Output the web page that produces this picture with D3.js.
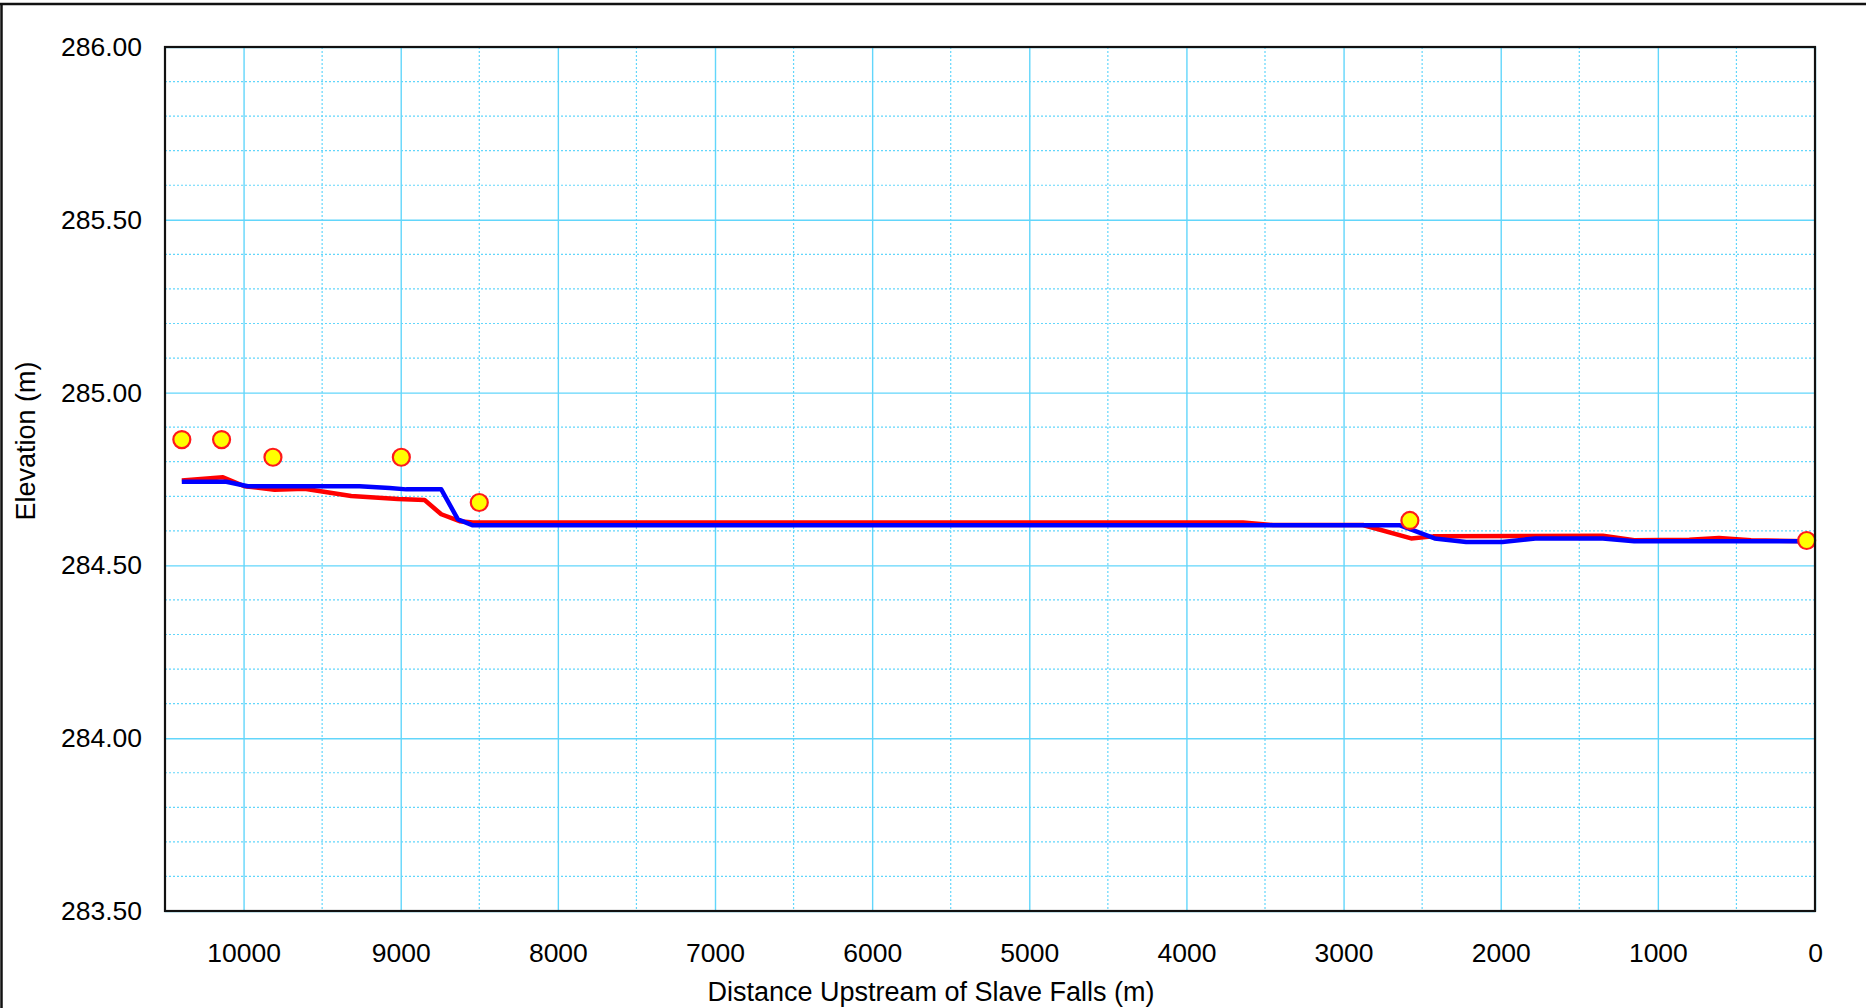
<!DOCTYPE html>
<html>
<head>
<meta charset="utf-8">
<script src="https://cdn.jsdelivr.net/npm/d3@7"></script>
<style>
  body { margin: 0; background: #fff; }
  svg { display: block; font-family: "Liberation Sans", Arial, sans-serif; }
</style>
</head>
<body>
<svg id="chart" width="1866" height="1008"></svg>
<script>
// water surface profiles, distance upstream (m) vs elevation (m)
var redDist = [10393, 10131, 9994, 9803, 9612, 9315, 9018, 8848, 8742, 8625, 8541, 3640, 3450, 2877, 2570, 2430, 1350, 1150, 800, 611, 407, 51];
var redElev = [284.746, 284.755, 284.729, 284.719, 284.722, 284.701, 284.692, 284.689, 284.648, 284.628, 284.624, 284.624, 284.617, 284.617, 284.578, 284.584, 284.586, 284.573, 284.574, 284.579, 284.573, 284.570];

var blueDist = [10393, 10110, 9973, 9262, 9071, 8965, 8742, 8636, 8541, 2640, 2420, 2220, 1990, 1780, 1350, 1150, 51];
var blueElev = [284.742, 284.742, 284.729, 284.729, 284.724, 284.720, 284.720, 284.633, 284.616, 284.616, 284.578, 284.568, 284.568, 284.578, 284.578, 284.570, 284.570];

// observed levels
var obsDist = [10393, 10140, 9813, 8996, 8500, 2578, 53];
var obsElev = [284.864, 284.864, 284.813, 284.813, 284.682, 284.630, 284.572];

var xTicks = [10000, 9000, 8000, 7000, 6000, 5000, 4000, 3000, 2000, 1000, 0];
var yTicks = [283.5, 284.0, 284.5, 285.0, 285.5, 286.0];

var svg = d3.select("#chart");
var pLeft = 165, pRight = 1815, pTop = 47, pBottom = 911;

var x = d3.scaleLinear().domain([10500, 0]).range([pLeft, pRight]);
var y = d3.scaleLinear().domain([283.5, 286]).range([pBottom, pTop]);

var gridCol = "#62d6fb";

// minor grid (dotted)
var minorX = d3.range(500, 10500, 1000);
var minorY = d3.range(0, 25).map(i => 283.5 + i * 0.1).filter((v, i) => i % 5 !== 0);

svg.append("g").selectAll("line")
    .data(minorX)
    .enter()
    .append("line")
    .attr("x1", d => x(d)).attr("x2", d => x(d))
    .attr("y1", pTop).attr("y2", pBottom)
    .attr("stroke", gridCol).attr("stroke-width", 1.2)
    .attr("stroke-dasharray", "2,2");

svg.append("g").selectAll("line")
    .data(minorY)
    .enter()
    .append("line")
    .attr("x1", pLeft).attr("x2", pRight)
    .attr("y1", d => y(d)).attr("y2", d => y(d))
    .attr("stroke", gridCol).attr("stroke-width", 1.2)
    .attr("stroke-dasharray", "2,2");

// major grid
svg.append("g")
    .attr("transform", "translate(0," + pBottom + ")")
    .call(d3.axisBottom(x).tickValues(xTicks).tickSize(pTop - pBottom).tickFormat(""))
    .call(g => g.select(".domain").remove())
    .call(g => g.selectAll("line").attr("stroke", gridCol).attr("stroke-width", 1.4));

svg.append("g")
    .attr("transform", "translate(" + pLeft + ",0)")
    .call(d3.axisLeft(y).tickValues(yTicks).tickSize(pLeft - pRight).tickFormat(""))
    .call(g => g.select(".domain").remove())
    .call(g => g.selectAll("line").attr("stroke", gridCol).attr("stroke-width", 1.4));

// tick labels
svg.append("g")
    .attr("transform", "translate(0," + pBottom + ")")
    .call(d3.axisBottom(x).tickValues(xTicks).tickSize(0).tickPadding(32).tickFormat(d3.format("d")))
    .call(g => g.select(".domain").remove())
    .call(g => g.selectAll("text").attr("font-size", 26.5).attr("fill", "#000").attr("font-family", "Liberation Sans, Arial, sans-serif"));

svg.append("g")
    .attr("transform", "translate(142,0)")
    .call(d3.axisLeft(y).tickValues(yTicks).tickSize(0).tickPadding(0).tickFormat(d3.format(".2f")))
    .call(g => g.select(".domain").remove())
    .call(g => g.selectAll("text").attr("font-size", 26.5).attr("fill", "#000").attr("font-family", "Liberation Sans, Arial, sans-serif"));

// lines
var red = redDist.map((d, i) => [d, redElev[i]]);
var blue = blueDist.map((d, i) => [d, blueElev[i]]);
var line = d3.line().x(d => x(d[0])).y(d => y(d[1]));

svg.append("path")
    .attr("d", line(red))
    .attr("fill", "none").attr("stroke", "#ff0000").attr("stroke-width", 4.5)
    .attr("stroke-linejoin", "round");

svg.append("path")
    .attr("d", line(blue))
    .attr("fill", "none").attr("stroke", "#0000ff").attr("stroke-width", 4.5)
    .attr("stroke-linejoin", "round");

svg.append("g").selectAll("circle")
    .data(obsDist)
    .enter()
    .append("circle")
    .attr("cx", d => x(d))
    .attr("cy", (d, i) => y(obsElev[i]))
    .attr("r", 8.5)
    .attr("fill", "#ffff00")
    .attr("stroke", "#ff1a1a")
    .attr("stroke-width", 2.2);

// plot frame
svg.append("rect")
    .attr("x", pLeft).attr("y", pTop)
    .attr("width", pRight - pLeft).attr("height", pBottom - pTop)
    .attr("fill", "none").attr("stroke", "#111").attr("stroke-width", 2.2);

// outer border (top and left)
svg.append("line").attr("x1", 0).attr("x2", 1866).attr("y1", 4).attr("y2", 4)
    .attr("stroke", "#111").attr("stroke-width", 2.5);
svg.append("line").attr("x1", 1.5).attr("x2", 1.5).attr("y1", 4).attr("y2", 1008)
    .attr("stroke", "#111").attr("stroke-width", 2.5);

// axis titles
svg.append("text")
    .attr("x", 931).attr("y", 1001)
    .attr("text-anchor", "middle")
    .attr("font-size", 27).attr("fill", "#000")
    .text("Distance Upstream of Slave Falls (m)");

svg.append("text")
    .attr("transform", "translate(35,441) rotate(-90)")
    .attr("text-anchor", "middle")
    .attr("font-size", 27).attr("fill", "#000")
    .text("Elevation (m)");
</script>
</body>
</html>
